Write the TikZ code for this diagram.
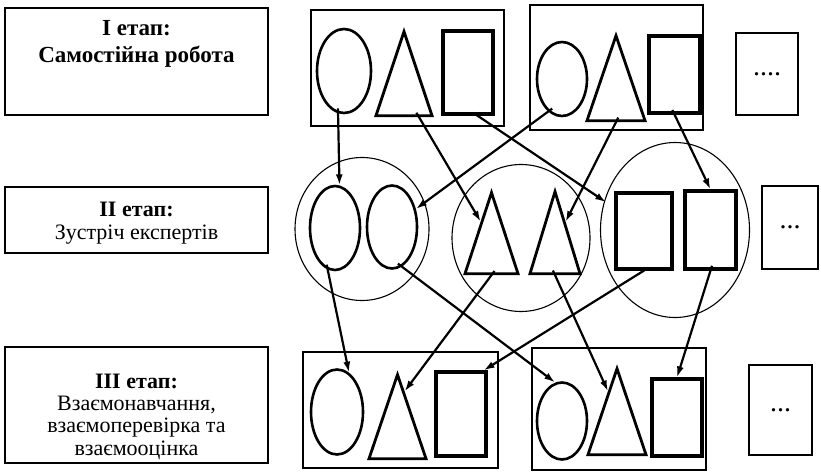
\documentclass[tikz,border=0pt]{standalone}
\usepackage{fontspec}
\setmainfont{Liberation Serif}
\usetikzlibrary{shapes.geometric, arrows.meta, positioning, calc}

\begin{document}
\begin{tikzpicture}[
    x=1pt, y=-1pt,
    stagebox/.style ={draw, line width=1.2pt, minimum width=263pt, inner sep=0pt},
    stagetext/.style={align=center, font=\fontsize{22}{23}\selectfont},
    grp/.style      ={draw, line width=1.6pt, inner sep=0pt},
    ring/.style     ={draw, ellipse, line width=1.1pt, inner sep=0pt},
    oval/.style     ={draw, ellipse, line width=2.6pt, inner sep=0pt},
    tri/.style      ={draw, isosceles triangle, isosceles triangle stretches,
                      shape border rotate=90, line width=2.8pt, inner sep=0pt,
                      anchor=apex},
    sq/.style       ={draw, rectangle, line width=3.1pt, inner sep=0pt},
    dotbox/.style   ={draw, line width=1.5pt, inner sep=0pt,
                      font=\fontsize{28}{30}\selectfont},
    link/.style     ={-{Latex[length=11pt,width=7pt]}, line width=2.2pt,
                      shorten <=-5pt}
]
\useasboundingbox (0,0) rectangle (821,473);

% Stage boxes on the left
\node[stagebox, minimum height=107pt] (stage1) at (136.5,61.5) {};
\node[stagetext, font=\bfseries\fontsize{23}{27}\selectfont] at (136.5,43.5)
    {I етап:\\Самостійна робота};
\node[stagebox, minimum height=66pt] (stage2) at (136.5,220) {};
\node[stagetext] at (136.5,223.5) {\textbf{II етап:}\\Зустріч експертів};
\node[stagebox, minimum height=116pt] (stage3) at (136.5,405) {};
\node[stagetext, font=\fontsize{22}{22.3}\selectfont] at (136.5,416.5)
    {\textbf{III етап:}\\Взаємонавчання,\\взаємоперевірка та\\взаємооцінка};

% Top row: home groups
\node[grp, minimum width=193pt, minimum height=116pt] (grpA) at (407.5,68) {};
\node[oval, minimum width=54pt, minimum height=84pt] (oA) at (344,71) {};
\node[tri, minimum width=56pt, minimum height=84pt] (tA) at (404,28) {};
\node[sq, minimum width=50pt, minimum height=83pt] (sA) at (468,72.5) {};

\node[grp, minimum width=173pt, minimum height=125pt] (grpB) at (616.5,67.5) {};
\node[oval, minimum width=50pt, minimum height=74pt] (oB) at (562,79) {};
\node[tri, minimum width=58pt, minimum height=85pt] (tB) at (616,32) {};
\node[sq, minimum width=51pt, minimum height=77pt] (sB) at (674.5,74.5) {};

\node[dotbox, minimum width=62pt, minimum height=82pt] (dotsT) at (767,74) {....};

% Middle row: expert groups
\node[ring, minimum width=134pt, minimum height=143pt] (ringO) at (362,229) {};
\node[oval, minimum width=50pt, minimum height=84pt] (oM1) at (335,228) {};
\node[oval, minimum width=50pt, minimum height=83pt] (oM2) at (392,227) {};

\node[ring, minimum width=138pt, minimum height=147pt] (ringT) at (521,238) {};
\node[tri, minimum width=53pt, minimum height=81pt] (tM1) at (491.5,189) {};
\node[tri, minimum width=50pt, minimum height=82pt] (tM2) at (555,188) {};

\node[ring, minimum width=149pt, minimum height=175pt] (ringS) at (675,230) {};
\node[sq, minimum width=56pt, minimum height=76pt] (sM1) at (644,231) {};
\node[sq, minimum width=51pt, minimum height=78pt] (sM2) at (710.5,230) {};

\node[dotbox, minimum width=56pt, minimum height=83pt] (dotsM) at (790,227.5) {...};

% Bottom row: home groups again
\node[grp, minimum width=195pt, minimum height=116pt] (grpC) at (400.5,410) {};
\node[oval, minimum width=52pt, minimum height=85pt] (oC) at (337,412) {};
\node[tri, minimum width=57pt, minimum height=84pt] (tC) at (397.5,371) {};
\node[sq, minimum width=50pt, minimum height=84pt] (sC) at (461,414) {};

\node[grp, minimum width=174pt, minimum height=122pt] (grpD) at (619,409) {};
\node[oval, minimum width=50pt, minimum height=77pt] (oD) at (562,421) {};
\node[tri, minimum width=58pt, minimum height=86pt] (tD) at (617,365) {};
\node[sq, minimum width=50pt, minimum height=77pt] (sD) at (677,417.5) {};

\node[dotbox, minimum width=63pt, minimum height=90pt] (dotsB) at (780.5,410) {...};

% --- Arrows: top -> middle ---
\draw[link] (oA.-98) -- (oM1.84);
\draw[link] ($(tA.lower side)!0.5!(tA.right corner)$)
    -- ($(tM1.apex)!0.38!(tM1.left corner)$);
\draw[link, shorten >=10pt] ($(sA.south)!0.35!(sA.south east)$) -- (sM1.142);
\draw[link] (oB.-113) -- (oM2.37);
\draw[link] (tB.lower side) -- ($(tM2.apex)!0.39!(tM2.right corner)$);
\draw[link] (sB.south) -- (sM2.north);

% --- Arrows: middle -> bottom ---
\draw[link] (oM1.-100) -- (oC.73);
\draw[link] (oM2.-76) -- (oD.100);
\draw[link] (tM1.lower side) -- ($(tC.apex)!0.23!(tC.right corner)$);
\draw[link] (tM2.lower side) -- ($(tD.apex)!0.29!(tD.left corner)$);
\draw[link] (sM1.south) -- ($(sC.north)!0.85!(sC.north east)$);
\draw[link] (sM2.south) -- (sD.north);

\end{tikzpicture}
\end{document}
